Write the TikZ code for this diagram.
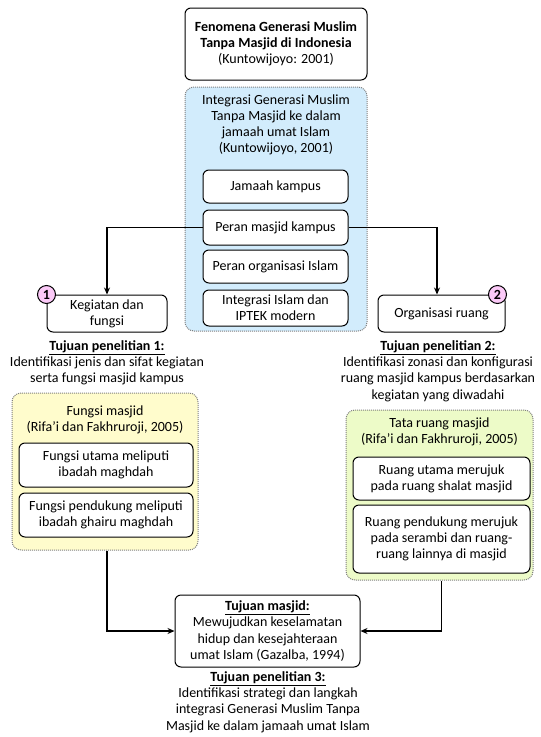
\documentclass[tikz,border=0pt]{standalone}
\usepackage{fontspec}
\setmainfont{Carlito}
\usetikzlibrary{arrows.meta}
\definecolor{bluefill}{HTML}{D2ECFC}
\definecolor{yellowfill}{HTML}{FFFCCC}
\definecolor{greenfill}{HTML}{EDFBC8}
\definecolor{pinkfill}{HTML}{FBC9F7}
\tikzset{
  every node/.style={font=\fontsize{14}{16.2}\selectfont},
  box/.style={draw, rounded corners=6pt, fill=white, line width=1pt, align=center, inner sep=0pt},
  panel/.style={draw=gray, densely dotted, rounded corners=9pt, line width=1pt, inner sep=0pt},
  txt/.style={align=center, inner sep=0pt},
  num/.style={circle, draw, line width=1pt, fill=pinkfill, inner sep=0pt, minimum size=18pt, font=\fontsize{14}{16}\selectfont\bfseries},
  link/.style={line width=1.5pt},
  arr/.style={link, -{Stealth[length=7pt,width=6pt]}}
}
\begin{document}
\begin{tikzpicture}[x=1pt,y=-1pt]
\useasboundingbox (0,0) rectangle (541,737);
% top
\node[box, minimum width=182pt, minimum height=72pt] (feno) at (276,44)
  {\textbf{Fenomena Generasi Muslim}\\\textbf{Tanpa Masjid di Indonesia}\\(Kuntowijoyo: 2001)};
% integrasi panel
\node[panel, fill=bluefill, minimum width=182pt, minimum height=244pt] (integ) at (276,209) {};
\node[txt] (integt) at (276,125) {Integrasi Generasi Muslim\\Tanpa Masjid ke dalam\\jamaah umat Islam\\(Kuntowijoyo, 2001)};
\node[box, minimum width=145pt, minimum height=33pt] (jamaah) at (275.5,186.5) {Jamaah kampus};
\node[box, minimum width=145pt, minimum height=35pt] (peran) at (275.5,227.5) {Peran masjid kampus};
\node[box, minimum width=145pt, minimum height=33pt] (organ) at (275.5,266.5) {Peran organisasi Islam};
\node[box, minimum width=145pt, minimum height=36pt] (iptek) at (275.5,308) {Integrasi Islam dan\\IPTEK modern};
% two branches
\node[box, minimum width=120pt, minimum height=37pt] (keg) at (107,313.5) {Kegiatan dan\\fungsi};
\node[num] (n1) at (keg.north west) {1};
\node[box, minimum width=127pt, minimum height=37pt] (org) at (441.5,313.5) {Organisasi ruang};
\node[num] (n2) at ([xshift=-8pt]org.north east) {2};
\draw[arr] (peran.west) -| (keg.north);
\draw[arr] (peran.east) -| ([xshift=-4.5pt]org.north);
\node[txt] (tuj1) at (107,363) {\underline{\textbf{Tujuan penelitian 1:}}\\Identifikasi jenis dan sifat kegiatan\\serta fungsi masjid kampus};
\node[txt] (tuj2) at (438,371) {\underline{\textbf{Tujuan penelitian 2:}}\\Identifikasi zonasi dan konfigurasi\\ruang masjid kampus berdasarkan\\kegiatan yang diwadahi};
% fungsi panel
\node[panel, fill=yellowfill, minimum width=186pt, minimum height=157pt] (fungsi) at (105,471.5) {};
\node[txt] (fungsit) at (105,420) {Fungsi masjid\\(Rifa'i dan Fakhruroji, 2005)};
\node[box, minimum width=174pt, minimum height=44pt] (utama) at (106,465) {Fungsi utama meliputi\\ibadah maghdah};
\node[box, minimum width=174pt, minimum height=44pt] (dukung) at (106,515) {Fungsi pendukung meliputi\\ibadah ghairu maghdah};
% tata ruang panel
\node[panel, fill=greenfill, minimum width=187pt, minimum height=170pt] (tata) at (439.5,495) {};
\node[txt] (tatat) at (439.5,432) {Tata ruang masjid\\(Rifa'i dan Fakhruroji, 2005)};
\node[box, minimum width=177pt, minimum height=43pt] (rutama) at (441.5,478.5) {Ruang utama merujuk\\pada ruang shalat masjid};
\node[box, minimum width=177pt, minimum height=68pt] (rdukung) at (441.5,539) {Ruang pendukung merujuk\\pada serambi dan ruang-\\ruang lainnya di masjid};
% tujuan masjid
\node[box, minimum width=185pt, minimum height=72pt] (masjid) at (267.5,631) {\underline{\textbf{Tujuan masjid:}}\\Mewujudkan keselamatan\\hidup dan kesejahteraan\\umat Islam (Gazalba, 1994)};
\draw[arr] ([xshift=2pt]fungsi.south) |- (masjid.west);
\draw[arr] ([xshift=2pt]tata.south) |- (masjid.east);
\node[txt] (tuj3) at (268,702) {\underline{\textbf{Tujuan penelitian 3:}}\\Identifikasi strategi dan langkah\\integrasi Generasi Muslim Tanpa\\Masjid ke dalam jamaah umat Islam};
\end{tikzpicture}
\end{document}
